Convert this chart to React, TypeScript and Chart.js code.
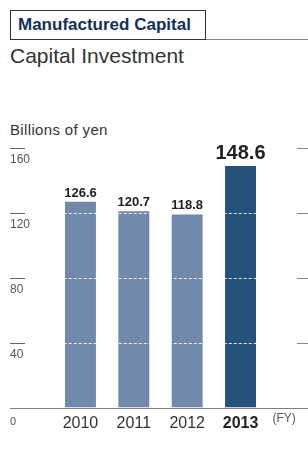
import React, { useEffect, useRef } from "react";
import { Chart, registerables } from "chart.js";

Chart.register(...registerables);

const categories = ["2010", "2011", "2012", "2013"];
const investment = [126.6, 120.7, 118.8, 148.6];
const yTicks = [0, 40, 80, 120, 160];
const barColors = ["#7189ab", "#7189ab", "#7189ab", "#24527b"];

const FAMILY = '"Liberation Sans", Arial, Helvetica, sans-serif';
const CANVAS_TOP = 140;
const CANVAS_W = 308;
const CANVAS_H = 317;

const overlayPlugin = {
  id: "overlay",
  afterDatasetsDraw(chart: any) {
    const { ctx, chartArea } = chart;
    const y = chart.scales.y;
    ctx.save();
    ctx.strokeStyle = "rgba(255,255,255,0.85)";
    ctx.lineWidth = 1;
    ctx.setLineDash([3, 2]);
    yTicks.forEach((v) => {
      if (v <= 0 || v >= 160) return;
      const py = Math.round(y.getPixelForValue(v)) + 0.5;
      ctx.beginPath();
      ctx.moveTo(chartArea.left, py);
      ctx.lineTo(chartArea.right, py);
      ctx.stroke();
    });
    ctx.restore();
  },
  afterDraw(chart: any) {
    const { ctx } = chart;
    const y = chart.scales.y;
    ctx.save();
    // axis line
    const y0 = Math.round(y.getPixelForValue(0)) + 0.5;
    ctx.strokeStyle = "#808080";
    ctx.lineWidth = 1.2;
    ctx.beginPath();
    ctx.moveTo(10, y0);
    ctx.lineTo(CANVAS_W, y0);
    ctx.stroke();
    // tick marks and labels
    yTicks.forEach((v) => {
      const py = Math.round(y.getPixelForValue(v)) + 0.5;
      if (v > 0) {
        ctx.strokeStyle = "#666";
        ctx.lineWidth = 1;
        ctx.beginPath();
        ctx.moveTo(10, py);
        ctx.lineTo(25, py);
        ctx.stroke();
        ctx.strokeStyle = "#888";
        ctx.beginPath();
        ctx.moveTo(297, py);
        ctx.lineTo(CANVAS_W, py);
        ctx.stroke();
      }
      ctx.fillStyle = "#555";
      ctx.textAlign = "left";
      ctx.textBaseline = "alphabetic";
      ctx.font = (v === 0 ? "11px " : "12px ") + FAMILY;
      ctx.fillText(String(v), 10, py + (v === 0 ? 16 : 14));
    });
    // value labels
    const meta = chart.getDatasetMeta(0);
    meta.data.forEach((bar: any, i: number) => {
      const last = i === investment.length - 1;
      ctx.fillStyle = "#222";
      ctx.textAlign = "center";
      ctx.textBaseline = "alphabetic";
      ctx.font = "bold " + (last ? "20px " : "13px ") + FAMILY;
      ctx.fillText(investment[i].toFixed(1), bar.x, bar.y - (last ? 7 : 5));
    });
    // (FY)
    ctx.fillStyle = "#555";
    ctx.textAlign = "left";
    ctx.font = "12px " + FAMILY;
    ctx.fillText("(FY)", 272.5, 422 - CANVAS_TOP);
    ctx.restore();
  },
};

function BarChart() {
  const ref = useRef<HTMLCanvasElement | null>(null);
  useEffect(() => {
    if (!ref.current) return;
    const chart = new Chart(ref.current, {
      type: "bar",
      data: {
        labels: categories,
        datasets: [
          {
            data: investment,
            backgroundColor: barColors,
            borderWidth: 0,
            barPercentage: 0.58,
            categoryPercentage: 1,
          },
        ],
      },
      options: {
        responsive: false,
        animation: false,
        devicePixelRatio: 1,
        layout: { padding: { left: 53.8, right: 40.8, top: 7.5, bottom: 21.5 } },
        plugins: { legend: { display: false }, tooltip: { enabled: false } },
        scales: {
          y: { display: false, min: 0, max: 160 },
          x: {
            grid: { display: false, drawTicks: false },
            border: { display: false },
            afterFit: (scale: any) => {
              scale.height = 28;
            },
            ticks: {
              padding: 6,
              color: (c: any) => (c.index === 3 ? "#222" : "#333"),
              font: (c: any) => ({
                family: FAMILY,
                size: 16,
                weight: c.index === 3 ? "bold" : "normal",
              }),
            },
          },
        },
      },
      plugins: [overlayPlugin],
    } as any);
    return () => chart.destroy();
  }, []);
  return (
    <canvas
      ref={ref}
      width={CANVAS_W}
      height={CANVAS_H}
      style={{ position: "absolute", left: 0, top: CANVAS_TOP, width: CANVAS_W, height: CANVAS_H }}
    />
  );
}

export default function App() {
  useEffect(() => {
    document.body.style.margin = "0";
  }, []);
  return (
    <div style={{ position: "relative", width: 308, height: 457, background: "#fff", fontFamily: FAMILY, overflow: "hidden" }}>
      <div
        style={{
          position: "absolute",
          left: 10,
          top: 10,
          width: 196,
          height: 30,
          boxSizing: "border-box",
          border: "1px solid #333",
          display: "flex",
          alignItems: "center",
          paddingLeft: 7,
          fontWeight: "bold",
          fontSize: 17,
          color: "#12305a",
          whiteSpace: "nowrap",
        }}
      >
        Manufactured Capital
      </div>
      <div style={{ position: "absolute", left: 206, top: 39, width: 102, height: 1, background: "#888" }} />
      <div style={{ position: "absolute", left: 10, top: 45, fontSize: 21, lineHeight: "21px", color: "#333", whiteSpace: "nowrap" }}>
        Capital Investment
      </div>
      <div
        style={{
          position: "absolute",
          left: 10,
          top: 121.5,
          fontSize: 15,
          lineHeight: "15px",
          letterSpacing: 0.35,
          color: "#333",
          whiteSpace: "nowrap",
        }}
      >
        Billions of yen
      </div>
      <BarChart />
    </div>
  );
}
